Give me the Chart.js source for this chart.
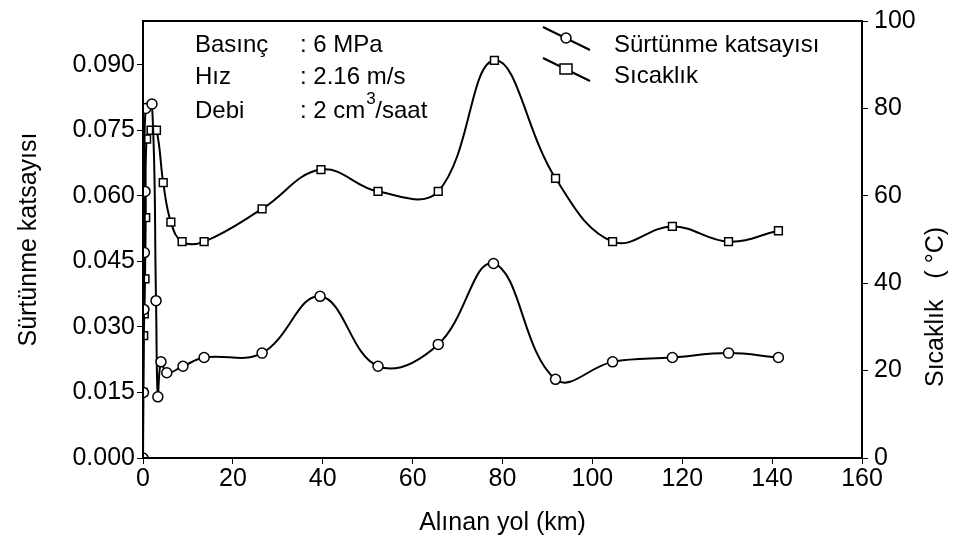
<!DOCTYPE html>
<html>
<head>
<meta charset="utf-8">
<script src="https://cdn.jsdelivr.net/npm/chart.js@4/dist/chart.umd.min.js"></script>
<style>
  html, body { margin: 0; padding: 0; background: #fff; }
  #wrap { width: 955px; height: 542px; position: relative; }
</style>
</head>
<body>
<div id="wrap"><canvas id="chart" width="955" height="542"></canvas></div>
<script>
'use strict';

// distance (km) and friction coefficient
const frictionKm  = [0, 0.1, 0.2, 0.3, 0.45, 0.6, 2.0, 2.9, 3.3, 4.0, 5.3, 8.9, 13.6, 26.5, 39.4, 52.3, 65.7, 78.0, 91.8, 104.5, 117.8, 130.3, 141.4];
const frictionVal = [0.000, 0.015, 0.034, 0.047, 0.061, 0.080, 0.081, 0.036, 0.014, 0.022, 0.0195, 0.021, 0.023, 0.024, 0.037, 0.021, 0.026, 0.0445, 0.018, 0.022, 0.023, 0.024, 0.023];

// distance (km) and temperature (°C)
const tempKm  = [0, 0.15, 0.3, 0.45, 0.6, 0.8, 1.8, 3.0, 4.5, 6.2, 8.7, 13.6, 26.5, 39.6, 52.3, 65.7, 78.2, 91.8, 104.5, 117.8, 130.3, 141.4];
const tempVal = [15, 28, 33, 41, 55, 73, 75, 75, 63, 54, 49.5, 49.5, 57, 66, 61, 61, 91, 64, 49.5, 53, 49.5, 52];

const xTicks = [0, 20, 40, 60, 80, 100, 120, 140, 160];
const leftTicks = [0, 0.015, 0.030, 0.045, 0.060, 0.075, 0.090];
const rightTicks = [0, 20, 40, 60, 80, 100];

const annotationLines = [
  ['Basınç', ': 6 MPa'],
  ['Hız', ': 2.16 m/s'],
  ['Debi', ': 2 cm', '3', '/saat']
];
const legendNames = ['Sürtünme katsayısı', 'Sıcaklık'];
const rightTitle = 'Sıcaklık   ( °C)';

const FONT = "'Liberation Sans', Arial, sans-serif";

function toPoints(xs, ys) {
  return xs.map((x, i) => ({ x: x, y: ys[i] }));
}

// frame, right title, annotation text and legend
const extras = {
  id: 'extras',
  afterDraw(chart) {
    const ctx = chart.ctx;
    const a = chart.chartArea;
    ctx.save();
    ctx.strokeStyle = '#000';
    ctx.lineWidth = 2;
    ctx.strokeRect(a.left, a.top, a.right - a.left, a.bottom - a.top);

    ctx.fillStyle = '#000';
    // right axis title, reading bottom to top
    ctx.save();
    ctx.translate(936, 307);
    ctx.rotate(-Math.PI / 2);
    ctx.font = '25px ' + FONT;
    ctx.textAlign = 'center';
    ctx.textBaseline = 'middle';
    ctx.fillText(rightTitle, 0, 0);
    ctx.restore();

    ctx.font = '24px ' + FONT;
    ctx.textBaseline = 'middle';
    const rows = [45, 77, 111];
    annotationLines.forEach((ln, i) => {
      ctx.fillText(ln[0], 195, rows[i]);
      ctx.fillText(ln[1], 300, rows[i]);
      if (ln.length > 2) {
        let w = ctx.measureText(ln[1]).width;
        ctx.font = '17px ' + FONT;
        ctx.fillText(ln[2], 300 + w + 1, rows[i] - 12);
        ctx.font = '24px ' + FONT;
        ctx.fillText(ln[3], 300 + w + 10, rows[i]);
      }
    });

    // legend
    const legY = [38, 69];
    legendNames.forEach((name, i) => {
      const cy = legY[i];
      ctx.lineWidth = 2;
      ctx.beginPath();
      ctx.moveTo(543, cy - 11);
      ctx.lineTo(590, cy + 12);
      ctx.stroke();
      ctx.fillStyle = '#fff';
      ctx.lineWidth = 1.5;
      ctx.beginPath();
      if (i === 0) {
        ctx.arc(566, cy, 5, 0, Math.PI * 2);
      } else {
        ctx.rect(560, cy - 5, 12, 10);
      }
      ctx.fill();
      ctx.stroke();
      ctx.fillStyle = '#000';
      ctx.font = '24px ' + FONT;
      ctx.fillText(name, 614, cy + 7);
    });
    ctx.restore();
  }
};

function renderChart() {
  let chartObj = {
    type: 'line',
    data: {
      datasets: [
        {
          label: legendNames[0],
          data: toPoints(frictionKm, frictionVal),
          yAxisID: 'y',
          borderColor: '#000',
          borderWidth: 2,
          tension: 0.4,
          pointStyle: 'circle',
          pointRadius: 5,
          pointBorderWidth: 1.5,
          pointBackgroundColor: '#fff',
          pointBorderColor: '#000'
        },
        {
          label: legendNames[1],
          data: toPoints(tempKm, tempVal),
          yAxisID: 'y1',
          borderColor: '#000',
          borderWidth: 2,
          tension: 0.4,
          pointStyle: 'rect',
          pointRadius: 5.5,
          pointBorderWidth: 1.5,
          pointBackgroundColor: '#fff',
          pointBorderColor: '#000'
        }
      ]
    },
    options: {
      responsive: false,
      animation: false,
      layout: { padding: { top: 15, left: 0, right: 0, bottom: 0 } },
      plugins: { legend: { display: false }, tooltip: { enabled: false } },
      scales: {
        x: {
          type: 'linear',
          min: 0,
          max: 160,
          afterBuildTicks: (s) => { s.ticks = xTicks.map(v => ({ value: v })); },
          afterFit: (s) => { s.height = 84; },
          grid: { drawOnChartArea: false, color: '#000', tickLength: 6 },
          border: { color: '#000', width: 2 },
          ticks: { color: '#000', font: { family: FONT, size: 25 }, padding: 0, maxRotation: 0 },
          title: { display: true, text: 'Alınan yol (km)', color: '#000', font: { family: FONT, size: 25 }, padding: { top: 6 } }
        },
        y: {
          position: 'left',
          min: 0,
          max: 0.1,
          afterBuildTicks: (s) => { s.ticks = leftTicks.map(v => ({ value: v })); },
          afterFit: (s) => { s.width = 143; },
          grid: { drawOnChartArea: false, color: '#000', tickLength: 6 },
          border: { color: '#000', width: 2 },
          ticks: { color: '#000', font: { family: FONT, size: 25 }, padding: 2, callback: (v) => v.toFixed(3) },
          title: { display: true, text: 'Sürtünme katsayısı', color: '#000', font: { family: FONT, size: 25 }, padding: { top: 14, bottom: 0 } }
        },
        y1: {
          position: 'right',
          min: 0,
          max: 100,
          afterBuildTicks: (s) => { s.ticks = rightTicks.map(v => ({ value: v })); },
          afterFit: (s) => { s.width = 93; },
          grid: { drawOnChartArea: false, color: '#000', tickLength: 6 },
          border: { color: '#000', width: 2 },
          ticks: { color: '#000', font: { family: FONT, size: 25 }, padding: 6 },
          title: { display: false }
        }
      }
    },
    plugins: [extras]
  };

  new Chart(document.getElementById('chart'), chartObj);
}

renderChart();
</script>
</body>
</html>
